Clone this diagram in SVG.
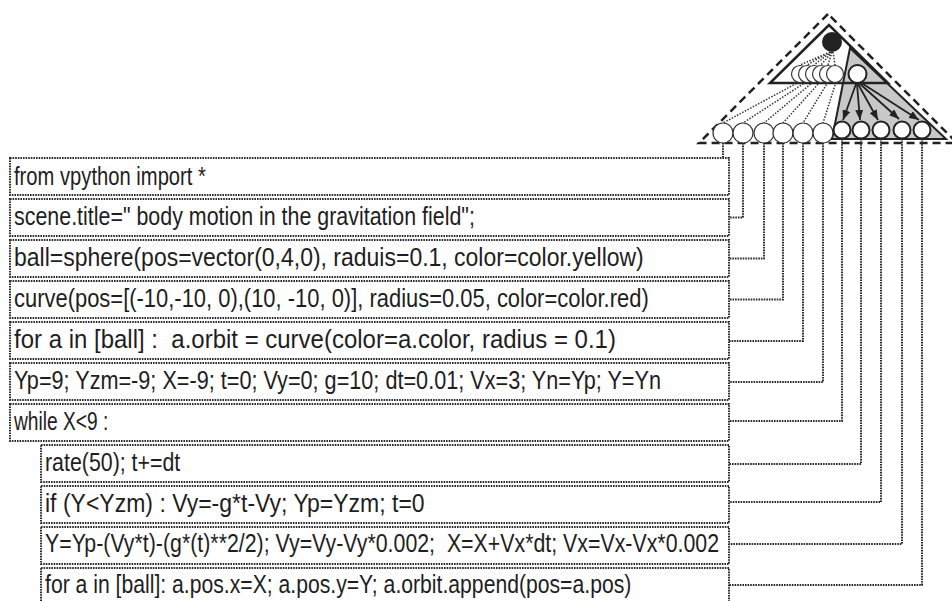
<svg xmlns="http://www.w3.org/2000/svg" width="952" height="601" viewBox="0 0 952 601">
<style>
.box{fill:none;stroke:#2a2a2a;stroke-width:2;stroke-dasharray:1.6 1}
.code{font-family:"Liberation Sans",Arial,sans-serif;font-size:26px;fill:#1e1e1e;white-space:pre}
.con{fill:none;stroke:#2a2a2a;stroke-width:2;stroke-dasharray:1.6 1}
.dot{fill:none;stroke:#333;stroke-width:1.5;stroke-dasharray:1.5 1.5}
.coin{fill:#fff;stroke:#333;stroke-width:1.2}
.lc{fill:#fff;stroke:#333;stroke-width:1.2}
.gc{fill:#fff;stroke:#222;stroke-width:2}
.arr{stroke:#222;stroke-width:1.8;fill:none;marker-end:url(#ah)}
</style>
<defs>
<marker id="ah" markerUnits="userSpaceOnUse" markerWidth="10" markerHeight="8" refX="10" refY="4" orient="auto">
<path d="M0,0 L10,4 L0,8 z" fill="#222"/>
</marker>
</defs>
<rect width="952" height="601" fill="#fff"/>

<g id="model">
<polygon points="828,14 699,143 957,143" fill="none" stroke="#222" stroke-width="2.5" stroke-dasharray="8 5"/>
<polygon points="850,48 832,139 946,139" fill="#c8c8c8" stroke="#222" stroke-width="2"/>
<polygon points="829,25 770,83 888,83" fill="none" stroke="#222" stroke-width="2.5"/>
<circle cx="832" cy="42" r="10" fill="#222"/>
<g class="dot">
<path d="M830,52 L800,65 M830,52 L807,65 M831,52 L814,65 M832,52 L821,65 M832,52 L828,65 M833,52 L835,65"/>
<path d="M799,82 L723,123 M806,82 L743,123 M813,82 L764,123 M820,82 L783,123 M828,82 L803,123 M836,82 L823,123"/>
</g>
<circle class="coin" cx="800" cy="74" r="8.5"/>
<circle class="coin" cx="807" cy="74" r="8.5"/>
<circle class="coin" cx="814" cy="74" r="8.5"/>
<circle class="coin" cx="821" cy="74" r="8.5"/>
<circle class="coin" cx="828" cy="74" r="8.5"/>
<circle class="coin" cx="835" cy="74" r="8.5"/>
<circle class="gc" cx="857.5" cy="74" r="9"/>
<circle class="lc" cx="723" cy="133" r="10"/>
<circle class="lc" cx="743" cy="133" r="10"/>
<circle class="lc" cx="764" cy="133" r="10"/>
<circle class="lc" cx="783" cy="133" r="10"/>
<circle class="lc" cx="803" cy="133" r="10"/>
<circle class="lc" cx="823" cy="133" r="10"/>
<circle class="gc" cx="842" cy="130" r="8.5"/>
<circle class="gc" cx="861" cy="130" r="8.5"/>
<circle class="gc" cx="881" cy="130" r="8.5"/>
<circle class="gc" cx="902" cy="130" r="8.5"/>
<circle class="gc" cx="922" cy="130" r="8.5"/>
<path class="arr" d="M856,84 L843,120"/>
<path class="arr" d="M857,84 L860,120"/>
<path class="arr" d="M858,84 L878,120"/>
<path class="arr" d="M859,83 L899,119"/>
<path class="arr" d="M860,82 L919,120"/>
</g>

<g id="connectors">
<path class="con" d="M723,143 V158"/>
<path class="con" d="M743,143 V217.5 H729"/>
<path class="con" d="M764,143 V258.5 H729"/>
<path class="con" d="M783,143 V299.5 H729"/>
<path class="con" d="M803,143 V341 H729"/>
<path class="con" d="M823,143 V382 H729"/>
<path class="con" d="M842,139 V421 H729"/>
<path class="con" d="M861,139 V464 H729"/>
<path class="con" d="M881,139 V502 H729"/>
<path class="con" d="M902,139 V544 H729"/>
<path class="con" d="M922,139 V585 H729"/>
</g>

<g id="line1"><rect class="box" x="10" y="158" width="719" height="37"/><text class="code" transform="scale(0.82,1)" x="17.1" y="185" textLength="234" lengthAdjust="spacingAndGlyphs">from vpython import *</text></g>
<g id="line2"><rect class="box" x="10" y="199" width="719" height="37"/><text class="code" transform="scale(0.82,1)" x="17.1" y="225" textLength="562" lengthAdjust="spacingAndGlyphs">scene.title=" body motion in the gravitation field";</text></g>
<g id="line3"><rect class="box" x="10" y="240" width="719" height="37"/><text class="code" transform="scale(0.82,1)" x="17.1" y="266" textLength="768" lengthAdjust="spacingAndGlyphs">ball=sphere(pos=vector(0,4,0), raduis=0.1, color=color.yellow)</text></g>
<g id="line4"><rect class="box" x="10" y="281" width="719" height="37"/><text class="code" transform="scale(0.82,1)" x="17.1" y="307" textLength="774" lengthAdjust="spacingAndGlyphs">curve(pos=[(-10,-10, 0),(10, -10, 0)], radius=0.05, color=color.red)</text></g>
<g id="line5"><rect class="box" x="10" y="322" width="719" height="37"/><text class="code" transform="scale(0.82,1)" x="17.1" y="348" textLength="734" lengthAdjust="spacingAndGlyphs">for a in [ball] :  a.orbit = curve(color=a.color, radius = 0.1)</text></g>
<g id="line6"><rect class="box" x="10" y="363" width="719" height="37"/><text class="code" transform="scale(0.82,1)" x="17.1" y="389" textLength="789" lengthAdjust="spacingAndGlyphs">Yp=9; Yzm=-9; X=-9; t=0; Vy=0; g=10; dt=0.01; Vx=3; Yn=Yp; Y=Yn</text></g>
<g id="line7"><rect class="box" x="10" y="404" width="719" height="37"/><text class="code" transform="scale(0.82,1)" x="17.1" y="430" textLength="115" lengthAdjust="spacingAndGlyphs">while X&lt;9 :</text></g>
<g id="line8"><rect class="box" x="41" y="445" width="688" height="37"/><text class="code" transform="scale(0.82,1)" x="54.9" y="471" textLength="165" lengthAdjust="spacingAndGlyphs">rate(50); t+=dt</text></g>
<g id="line9"><rect class="box" x="41" y="486" width="688" height="37"/><text class="code" transform="scale(0.82,1)" x="54.9" y="512" textLength="463" lengthAdjust="spacingAndGlyphs">if (Y&lt;Yzm) : Vy=-g*t-Vy; Yp=Yzm; t=0</text></g>
<g id="line10"><rect class="box" x="41" y="527" width="688" height="37"/><text class="code" transform="scale(0.82,1)" x="54.9" y="552" textLength="822" lengthAdjust="spacingAndGlyphs">Y=Yp-(Vy*t)-(g*(t)**2/2); Vy=Vy-Vy*0.002;  X=X+Vx*dt; Vx=Vx-Vx*0.002</text></g>
<g id="line11"><rect class="box" x="41" y="568" width="688" height="37"/><text class="code" transform="scale(0.82,1)" x="54.9" y="593" textLength="715" lengthAdjust="spacingAndGlyphs">for a in [ball]: a.pos.x=X; a.pos.y=Y; a.orbit.append(pos=a.pos)</text></g>
</svg>
